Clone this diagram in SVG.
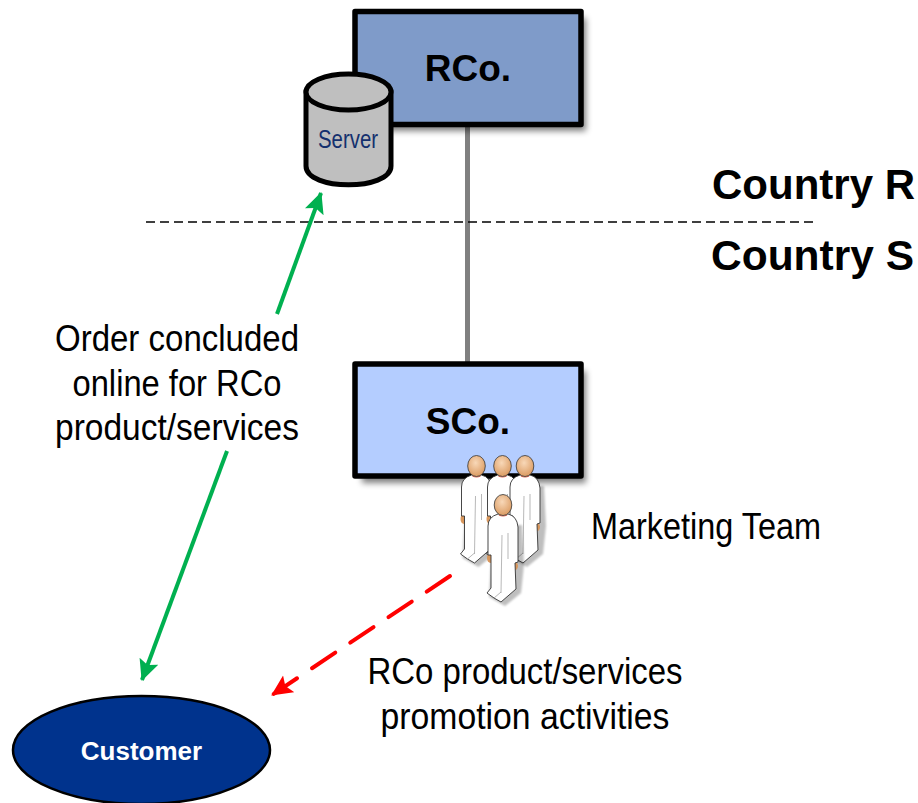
<svg xmlns="http://www.w3.org/2000/svg" width="918" height="803" viewBox="0 0 918 803">
<style>
text{font-family:"Liberation Sans",Arial,sans-serif}
.n{font-size:37px;fill:#000;text-anchor:middle}
.b{font-weight:bold;fill:#000}
.box{stroke:#000;stroke-width:5.500;stroke-linejoin:round}
</style>
<defs>
<filter id="sh" x="-20%" y="-20%" width="150%" height="150%"><feGaussianBlur stdDeviation="3"/></filter>
<filter id="sh2" x="-30%" y="-30%" width="170%" height="170%"><feGaussianBlur stdDeviation="1.200"/></filter>
<radialGradient id="skin" cx="0.45" cy="0.35" r="0.7"><stop offset="0" stop-color="#f8d8b8"/><stop offset="1" stop-color="#d9975c"/></radialGradient>
<marker id="ag" markerWidth="24" markerHeight="22" refX="20" refY="10" orient="auto" markerUnits="userSpaceOnUse"><path d="M0,0L21,10L0,20L4,10Z" fill="#00b050"/></marker>
<marker id="ar" markerWidth="24" markerHeight="22" refX="20" refY="10" orient="auto" markerUnits="userSpaceOnUse"><path d="M0,0L21,10L0,20L4,10Z" fill="#ff0000"/></marker>
<g id="person">
<path d="M-10,20L19,20L21,60L18,88L2,101L-14,92Z" fill="#000" opacity=".25" filter="url(#sh2)"/>
<ellipse cx="-12.500" cy="53" rx="3.500" ry="5" fill="#d9975c"/>
<ellipse cx="10" cy="61" rx="5" ry="5" fill="#d9975c"/>
<path d="M-15,21Q-15,12 -5,9L5,9Q14,11 15,22L15,57L12,58L13,84L-2,97L-9,93L-16,88L-12,83L-12,50L-15,50Z" fill="#fff" stroke="#333" stroke-width="0.900" stroke-linejoin="round"/>
<path d="M-1,30L-2,88M-9,93L-2,87M5,28L5,54" fill="none" stroke="#999" stroke-width="0.700"/>
<path d="M-4,10Q0,12 4,10" fill="none" stroke="#e8604c" stroke-width="1.200"/>
<ellipse cx="0" cy="0" rx="8.800" ry="10.500" fill="url(#skin)" stroke="#333" stroke-width="0.800"/>
</g>
</defs>
<rect width="918" height="803" fill="#fff"/>
<g id="connectors" fill="none">
<path d="M467.500,125V365" stroke="#808080" stroke-width="5"/>
<path d="M146,222H814" stroke="#000" stroke-width="1.500" stroke-dasharray="9 5"/>
<path d="M277,314L321,193" stroke="#00b050" stroke-width="4" marker-end="url(#ag)"/>
<path d="M227,451L142,680" stroke="#00b050" stroke-width="4" marker-end="url(#ag)"/>
<path d="M450,576L272,695" stroke="#ff0000" stroke-width="4" stroke-linecap="round" stroke-dasharray="28 18" marker-end="url(#ar)"/>
</g>
<g id="rco">
<rect x="362" y="18" width="224" height="113" fill="#000" opacity=".5" filter="url(#sh)"/>
<rect class="box" x="355" y="11.500" width="226" height="113" fill="#7f9bc9"/>
<text class="b" x="468" y="81" font-size="37" text-anchor="middle">RCo.</text>
</g>
<g id="server">
<path d="M306,92V166C306,191 391,191 391,166V92Z" fill="#bfbfbf" stroke="#000" stroke-width="5"/>
<ellipse cx="348.500" cy="92" rx="42.500" ry="18" fill="#bfbfbf" stroke="#000" stroke-width="5"/>
<text x="348" y="148" font-size="25" text-anchor="middle" fill="#14306e" textLength="60" lengthAdjust="spacingAndGlyphs">Server</text>
</g>
<g id="sco">
<rect x="362" y="371" width="224" height="112" fill="#000" opacity=".5" filter="url(#sh)"/>
<rect class="box" x="355" y="364" width="226" height="112" fill="#b4cdff"/>
<text class="b" x="468" y="434" font-size="37" text-anchor="middle">SCo.</text>
</g>
<g id="marketing-team">
<use href="#person" x="476.500" y="466"/>
<use href="#person" x="502.500" y="466"/>
<use href="#person" x="525" y="466"/>
<use href="#person" x="503" y="505"/>
</g>
<g id="customer">
<ellipse cx="141.500" cy="750" rx="128.500" ry="54" fill="#00338d" stroke="#000" stroke-width="2.500"/>
<text x="141.500" y="760" font-size="26" font-weight="bold" fill="#fff" text-anchor="middle">Customer</text>
</g>
<g id="labels">
<text class="b" x="712" y="199" font-size="42" textLength="203" lengthAdjust="spacingAndGlyphs">Country R</text>
<text class="b" x="711" y="270" font-size="42" textLength="203" lengthAdjust="spacingAndGlyphs">Country S</text>
<text class="n" x="177" y="351" textLength="244" lengthAdjust="spacingAndGlyphs">Order concluded</text>
<text class="n" x="177" y="396" textLength="209" lengthAdjust="spacingAndGlyphs">online for RCo</text>
<text class="n" x="177" y="440" textLength="244" lengthAdjust="spacingAndGlyphs">product/services</text>
<text class="n" x="706" y="539" textLength="230" lengthAdjust="spacingAndGlyphs">Marketing Team</text>
<text class="n" x="525" y="684" textLength="315" lengthAdjust="spacingAndGlyphs">RCo product/services</text>
<text class="n" x="525" y="729" textLength="289" lengthAdjust="spacingAndGlyphs">promotion activities</text>
</g>
</svg>
